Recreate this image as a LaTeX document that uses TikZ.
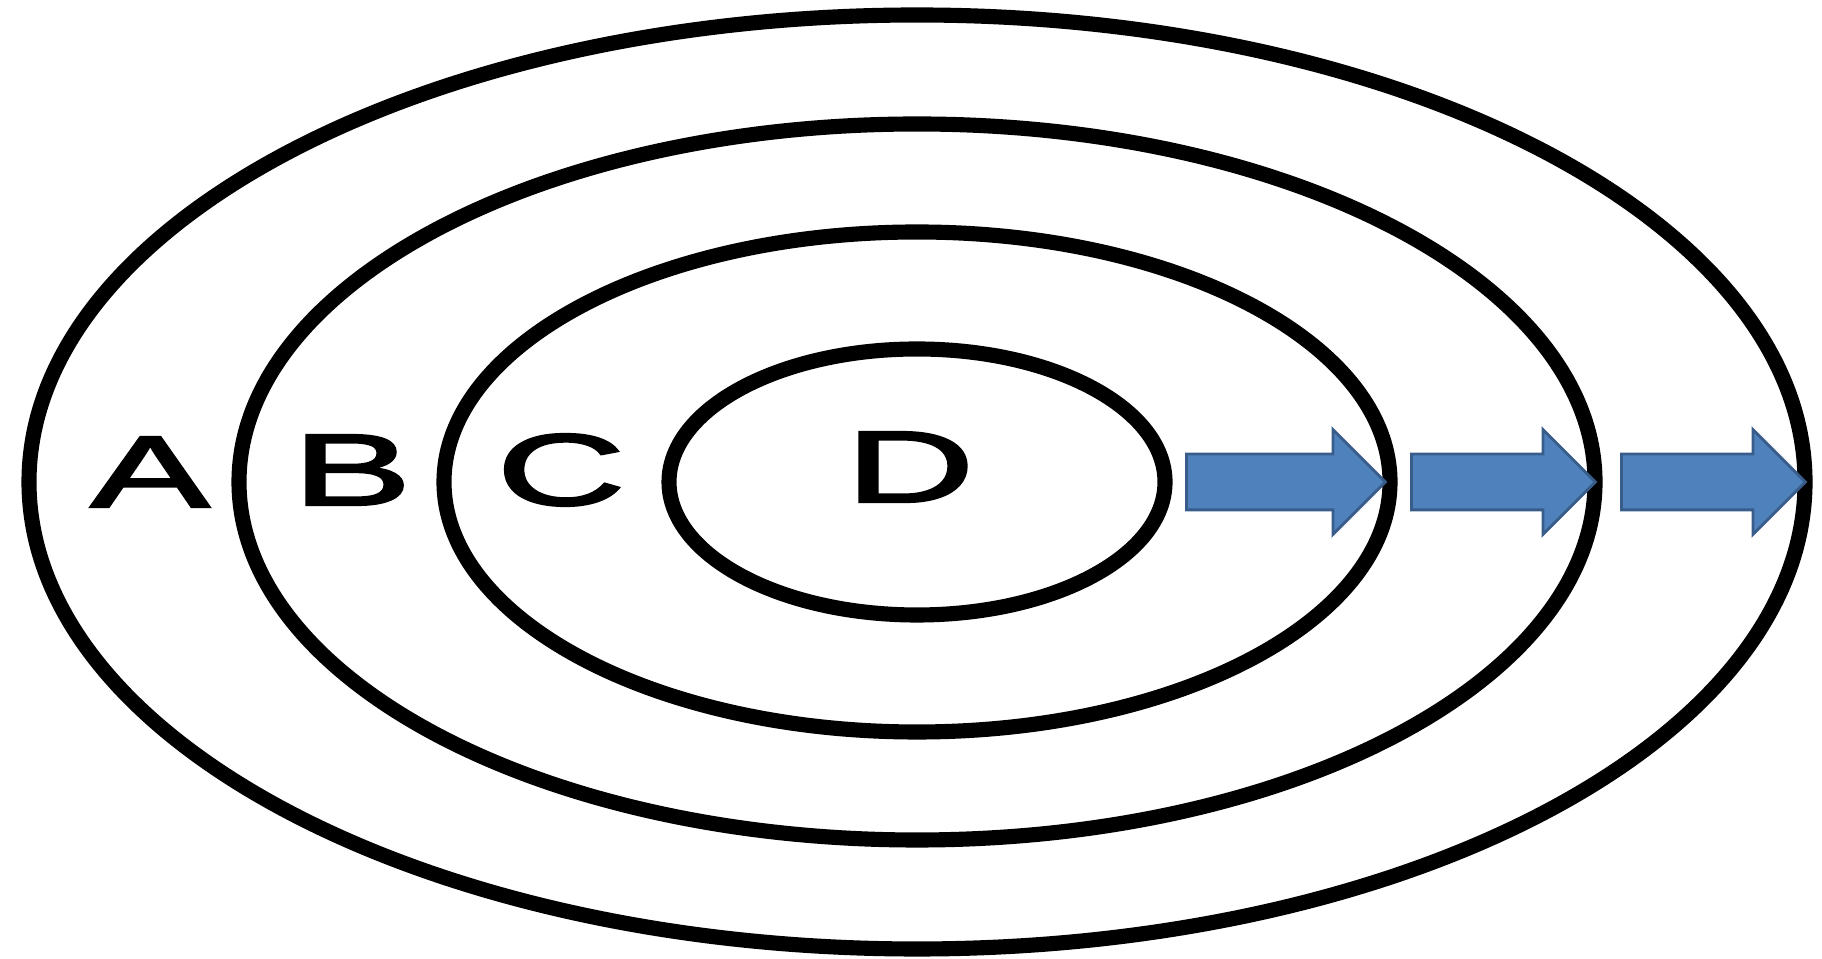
\documentclass[tikz,border=0pt]{standalone}
\usepackage{fontspec}
\newfontfamily\lblfont[FakeBold=2]{Liberation Sans}
\usetikzlibrary{shapes.arrows}

\definecolor{arrowfill}{HTML}{4F81BD}
\definecolor{arrowline}{HTML}{385D8A}

\tikzset{
    ring/.style={line width=4.3pt},
    letter/.style={font=\lblfont\fontsize{29}{32}\selectfont, xscale=1.75, inner sep=0pt},
    blockarrow/.style={single arrow, draw=arrowline, fill=arrowfill, line width=0.8pt,
        inner sep=0.265cm, single arrow head extend=0.245cm, minimum width=1.02cm, anchor=tail}
}

\begin{document}
\begin{tikzpicture}
    \useasboundingbox (0,0) rectangle (18.22,9.59);
    \coordinate (ctr) at (9.17,4.77);

    % rings, outer to inner
    \foreach \rx/\ry in {8.88/4.67, 6.78/3.58, 4.73/2.50, 2.48/1.33}
        \draw[ring] (ctr) ellipse [x radius=\rx, y radius=\ry];

    \node[letter] (la) at (1.50,4.87) {A};
    \node[letter] (lb) at (3.52,4.89) {B};
    \node[letter] (lc) at (5.61,4.89) {C};
    \node[letter] (ld) at (9.10,4.92) {D};

    \node[blockarrow, minimum height=1.99cm] (arr1) at (11.85,4.77) {};
    \node[blockarrow, minimum height=1.84cm] (arr2) at (14.10,4.77) {};
    \node[blockarrow, minimum height=1.84cm] (arr3) at (16.20,4.77) {};
\end{tikzpicture}
\end{document}
